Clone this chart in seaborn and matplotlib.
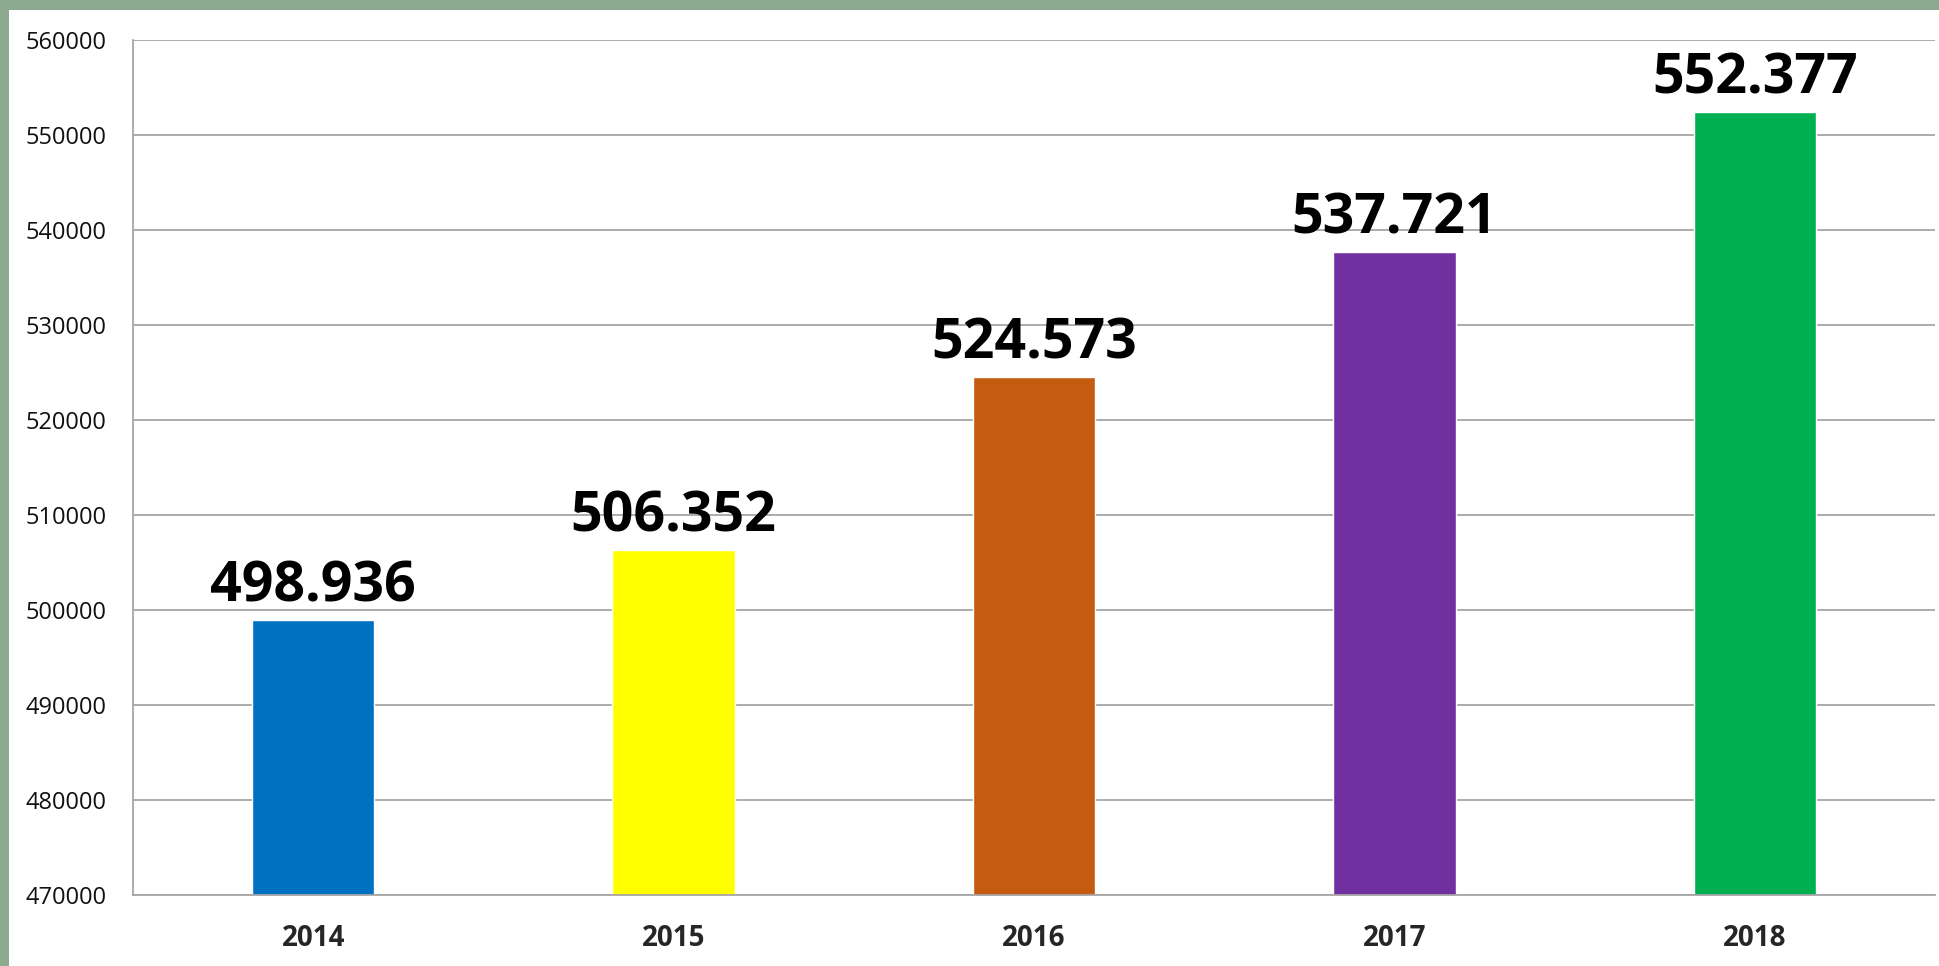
import pandas as pd
import matplotlib.pyplot as plt
import seaborn as sns
from matplotlib.patches import Rectangle

years = ['2014', '2015', '2016', '2017', '2018']
values = [498936, 506352, 524573, 537721, 552377]
labels = ['498.936', '506.352', '524.573', '537.721', '552.377']
colors = ['#0070C0', '#FFFF00', '#C55A11', '#7030A0', '#00B050']

df = pd.DataFrame({'year': years, 'value': values})

sns.set_style("white")
plt.rcParams['font.family'] = ['Open Sans', 'DejaVu Sans']

W, H = 1939, 966
fig = plt.figure(figsize=(W / 100, H / 100), dpi=100, facecolor='#8BAA90')
# white card inside the green frame
fig.patches.append(Rectangle((9 / W, 0), 1, 1 - 10 / H, transform=fig.transFigure,
                             facecolor='white', edgecolor='none', zorder=-10))

ax = fig.add_axes([133 / W, 1 - 895 / H, (1935 - 133) / W, (895 - 40) / H])
sns.barplot(data=df, x='year', y='value', hue='year', palette=colors,
            legend=False, width=0.34, saturation=1, ax=ax)

ax.set_ylim(470000, 560000)
ax.set_yticks(range(470000, 560001, 10000))
ax.yaxis.grid(True, color='#A6A6A6', linewidth=1.3)
ax.set_axisbelow(True)
ax.patch.set_alpha(0)
for side in ['top', 'right']:
    ax.spines[side].set_visible(False)
ax.spines['left'].set_color('#A6A6A6')
ax.spines['bottom'].set_color('#A6A6A6')
ax.spines['left'].set_linewidth(1.3)
ax.spines['bottom'].set_linewidth(1.3)
ax.set_xlabel('')
ax.set_ylabel('')
ax.tick_params(axis='y', length=0, pad=19, labelsize=17, labelcolor='#111111')
ax.tick_params(axis='x', length=0, pad=21, labelsize=20)
for t in ax.get_xticklabels():
    t.set_fontweight('bold')

for i, (v, lab) in enumerate(zip(values, labels)):
    ax.annotate(lab, (i, v), xytext=(0, 4), textcoords='offset points',
                ha='center', va='bottom', fontsize=40, fontweight='bold', color='black')

fig.savefig('out.png', dpi=100, facecolor=fig.get_facecolor())
